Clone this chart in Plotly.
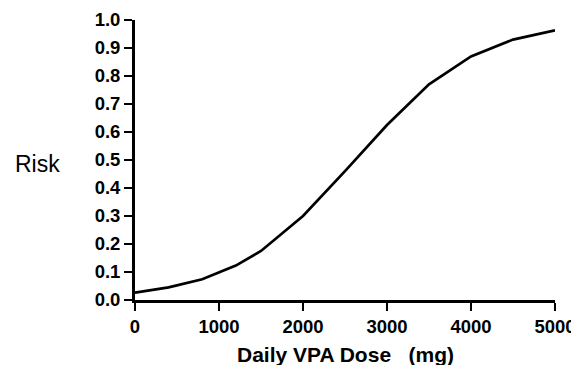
import plotly.graph_objects as go

dose_mg = [0, 400, 800, 1200, 1500, 2000, 2500, 3000, 3500, 4000, 4500, 5000]
risk = [0.026, 0.045, 0.074, 0.123, 0.175, 0.30, 0.46, 0.625, 0.77, 0.87, 0.93, 0.963]

x_ticks = [0, 1000, 2000, 3000, 4000, 5000]
y_ticks = [0.0, 0.1, 0.2, 0.3, 0.4, 0.5, 0.6, 0.7, 0.8, 0.9, 1.0]

FONT = "Liberation Sans, Arial, sans-serif"

fig = go.Figure()
fig.add_trace(go.Scatter(
    x=dose_mg, y=risk, mode="lines",
    line=dict(color="black", width=2.7),
    showlegend=False, cliponaxis=False,
))

# page body has an 8px default margin, so the figure is sized/offset to compensate
fig.update_layout(
    template="none",
    width=571, height=357,
    margin=dict(l=127, r=24, t=12, b=65),
    paper_bgcolor="white", plot_bgcolor="white",
    font=dict(family=FONT, color="black"),
    xaxis=dict(
        automargin=False,
        range=[0, 5000], tickvals=x_ticks, ticktext=[str(v) for v in x_ticks],
        showgrid=False, zeroline=False, showline=True, linecolor="black", linewidth=2.8,
        ticks="outside", ticklen=8, tickwidth=2.2, tickcolor="black",
        tickfont=dict(size=18.5, family=FONT, weight="bold"),
    ),
    yaxis=dict(
        automargin=False,
        range=[0, 1.0], tickvals=y_ticks, ticktext=[f"{v:.1f}" for v in y_ticks],
        showgrid=False, zeroline=False, showline=True, linecolor="black", linewidth=2.8,
        ticks="outside", ticklen=8, tickwidth=2.2, tickcolor="black",
        tickfont=dict(size=18.5, family=FONT, weight="bold"),
    ),
    annotations=[
        dict(
            text="Risk", xref="paper", yref="paper", x=-0.233, y=0.486,
            xanchor="center", yanchor="middle", showarrow=False,
            font=dict(size=23, family=FONT, color="black"),
        ),
        dict(
            text="Daily VPA Dose\u00a0\u00a0\u00a0(mg)", xref="paper", yref="paper", x=0.5, y=-0.195,
            xanchor="center", yanchor="middle", showarrow=False,
            font=dict(size=21, family=FONT, color="black", weight="bold"),
        ),
    ],
)

fig.write_html("out.html")
